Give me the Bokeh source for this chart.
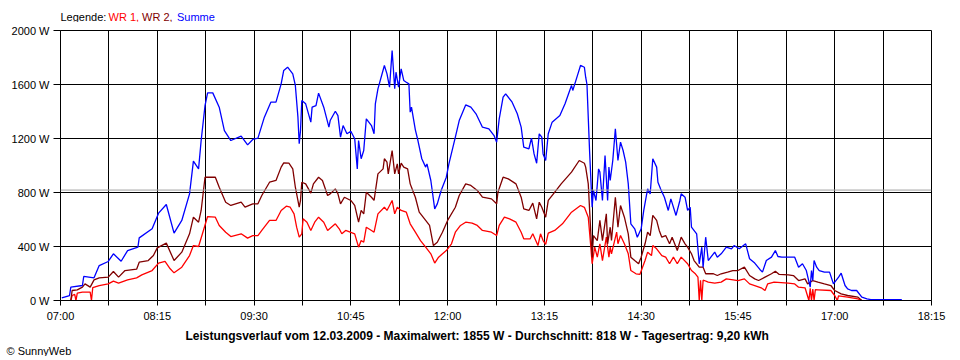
from bokeh.plotting import figure
from bokeh.layouts import column
from bokeh.models import FixedTicker, Span, Range1d, PrintfTickFormatter, Title
from bokeh.core.properties import value
from bokeh.embed import file_html
from bokeh.resources import INLINE

# ---------------- data ----------------
tick_labels = ["07:00", "08:15", "09:30", "10:45", "12:00", "13:15", "14:30", "15:45", "17:00", "18:15"]
y_ticks = [0, 400, 800, 1200, 1600, 2000]
average_w = 818

legend_texts = ["Legende:", "WR 1,", "WR 2,", "Summe"]
legend_colors = ["black", "#ff0000", "#800000", "#0000ff"]
footer_text = "Leistungsverlauf vom 12.03.2009 - Maximalwert: 1855 W - Durchschnitt: 818 W - Tagesertrag: 9,20 kWh"
copyright_text = "© SunnyWeb"

summe_t = ["07:01","07:07","07:08","07:17","07:18","07:26","07:30","07:37","07:41","07:47","07:52","08:00","08:01","08:11","08:16","08:22","08:28","08:34","08:40","08:43","08:47","08:49","08:52","08:54","08:58","09:03","09:07","09:12","09:20","09:25","09:29","09:33","09:38","09:43","09:47","09:51","09:53","09:56","10:00","10:02","10:04","10:05","10:06","10:07","10:10","10:14","10:15","10:18","10:20","10:24","10:28","10:29","10:33","10:35","10:37","10:39","10:42","10:45","10:48","10:50","10:51","10:53","10:55","10:57","11:01","11:03","11:04","11:06","11:11","11:13","11:15","11:17","11:19","11:20","11:22","11:24","11:26","11:28","11:30","11:31","11:32","11:35","11:37","11:40","11:43","11:44","11:47","11:50","11:52","11:55","11:59","12:01","12:06","12:09","12:14","12:18","12:22","12:27","12:32","12:36","12:38","12:40","12:43","12:45","12:50","12:54","12:57","12:59","13:03","13:05","13:07","13:09","13:11","13:13","13:14","13:16","13:18","13:21","13:27","13:31","13:36","13:37","13:41","13:43","13:46","13:47","13:48","13:50","13:52","13:53","13:55","13:57","13:58","14:00","14:02","14:04","14:05","14:06","14:08","14:10","14:12","14:14","14:16","14:18","14:20","14:22","14:25","14:27","14:30","14:32","14:35","14:37","14:39","14:42","14:43","14:45","14:48","14:51","14:53","14:57","15:00","15:01","15:04","15:06","15:08","15:09","15:13","15:15","15:17","15:18","15:20","15:22","15:24","15:27","15:29","15:32","15:36","15:40","15:42","15:46","15:51","15:54","15:58","16:02","16:04","16:07","16:11","16:14","16:16","16:19","16:24","16:29","16:32","16:35","16:38","16:41","16:42","16:43","16:44","16:46","16:48","16:52","16:56","16:59","17:03","17:05","17:08","17:10","17:13","17:17","17:21","17:25","17:28","17:52"]
summe_w = [20,37,99,111,178,168,259,289,346,291,370,395,464,531,647,711,499,593,790,1032,975,1185,1444,1538,1538,1432,1259,1185,1217,1153,1193,1203,1358,1469,1469,1605,1704,1728,1679,1593,1358,1161,1259,1481,1457,1321,1432,1444,1536,1432,1284,1333,1402,1370,1210,1296,1235,1254,1198,975,1185,1050,1111,1346,1296,1235,1457,1568,1741,1679,1580,1852,1568,1691,1580,1716,1630,1617,1605,1395,1432,1264,1185,1050,988,1012,889,679,716,815,913,1012,1210,1333,1449,1432,1383,1284,1272,1222,1173,1346,1506,1531,1469,1383,1284,1136,1124,1203,1086,1017,1235,1210,1086,1037,1235,1321,1370,1457,1593,1556,1679,1741,1728,1654,1600,1111,691,815,741,975,951,741,1074,741,988,889,1037,1272,1037,1173,1111,1025,864,568,531,469,531,667,827,790,1050,988,876,827,765,667,753,630,741,790,765,667,691,543,494,272,395,247,469,296,321,358,321,346,395,383,407,383,420,309,277,230,210,296,321,370,326,321,321,321,247,272,222,99,222,148,296,247,222,210,210,123,173,202,111,86,74,74,25,12,7,7]

wr2_t = ["07:08","07:09","07:13","07:17","07:19","07:23","07:26","07:30","07:37","07:41","07:45","07:50","07:59","08:01","08:08","08:12","08:15","08:22","08:28","08:34","08:40","08:43","08:47","08:49","08:52","09:00","09:03","09:08","09:12","09:20","09:23","09:29","09:33","09:36","09:42","09:47","09:51","09:53","09:57","10:00","10:02","10:05","10:06","10:07","10:10","10:14","10:16","10:20","10:23","10:27","10:29","10:33","10:35","10:37","10:40","10:45","10:48","10:51","10:53","10:55","10:57","11:01","11:03","11:06","11:10","11:11","11:13","11:14","11:17","11:19","11:21","11:22","11:24","11:26","11:29","11:31","11:32","11:35","11:38","11:43","11:46","11:49","11:52","11:56","12:00","12:06","12:09","12:14","12:18","12:23","12:27","12:34","12:38","12:39","12:43","12:47","12:53","12:57","12:59","13:03","13:06","13:09","13:11","13:13","13:16","13:18","13:22","13:28","13:36","13:42","13:46","13:47","13:49","13:51","13:52","13:53","13:56","13:58","14:00","14:03","14:04","14:06","14:07","14:10","14:12","14:14","14:17","14:20","14:22","14:25","14:28","14:30","14:33","14:35","14:37","14:39","14:42","14:44","14:46","14:49","14:52","14:54","14:58","15:01","15:04","15:06","15:09","15:11","15:15","15:18","15:20","15:23","15:26","15:29","15:32","15:37","15:41","15:45","15:50","15:54","15:58","16:01","16:06","16:11","16:14","16:17","16:24","16:28","16:32","16:37","16:39","16:43","16:47","16:52","16:57","17:00","17:05","17:10","17:18","17:21"]
wr2_w = [0,74,79,99,123,99,153,168,173,215,173,222,232,284,296,333,390,425,296,358,494,617,580,667,913,913,839,728,704,728,691,716,716,778,876,889,988,1020,1017,975,839,691,741,876,864,795,864,913,889,778,790,827,790,716,765,741,704,580,667,642,802,765,741,938,975,1050,1025,938,1111,938,1012,938,1017,988,975,864,839,765,654,593,556,407,432,506,593,691,778,864,852,815,765,753,716,802,913,901,864,765,679,667,721,605,728,691,617,741,790,864,951,1037,1017,988,864,494,321,481,444,593,444,642,420,543,444,765,543,704,617,494,321,296,272,321,420,506,481,630,593,519,469,481,420,469,370,469,420,395,346,296,247,247,198,198,198,185,198,210,222,222,247,185,160,148,173,198,217,193,190,185,148,160,123,148,136,123,111,74,49,37,25,0]

wr1_t = ["07:08","07:09","07:11","07:12","07:13","07:17","07:23","07:24","07:25","07:30","07:37","07:41","07:45","07:52","07:59","08:03","08:11","08:16","08:21","08:25","08:28","08:34","08:40","08:43","08:47","08:50","08:54","09:00","09:03","09:08","09:12","09:20","09:25","09:29","09:33","09:36","09:42","09:47","09:51","09:55","09:58","10:01","10:03","10:05","10:07","10:08","10:11","10:14","10:17","10:20","10:24","10:27","10:33","10:36","10:38","10:41","10:48","10:51","10:53","10:55","10:57","11:01","11:03","11:06","11:11","11:13","11:17","11:19","11:21","11:24","11:28","11:31","11:35","11:39","11:43","11:47","11:50","11:53","11:59","12:03","12:06","12:10","12:14","12:19","12:23","12:27","12:34","12:38","12:40","12:44","12:48","12:53","12:57","12:59","13:04","13:06","13:10","13:12","13:14","13:16","13:18","13:23","13:29","13:36","13:43","13:46","13:49","13:51","13:52","13:54","13:56","13:58","14:00","14:03","14:05","14:06","14:07","14:11","14:12","14:14","14:17","14:20","14:22","14:26","14:29","14:33","14:35","14:38","14:39","14:42","14:46","14:49","14:52","14:55","14:58","15:01","15:06","15:09","15:12","15:14","15:15","15:16","15:17","15:18","15:19","15:22","15:27","15:32","15:36","15:40","15:45","15:50","15:54","15:58","16:03","16:06","16:08","16:13","16:24","16:29","16:32","16:37","16:40","16:41","16:42","16:43","16:44","16:45","16:47","16:57","17:00","17:02","17:03","17:10","17:18","17:21"]
wr1_w = [0,37,45,0,55,62,62,0,95,111,123,143,128,153,168,190,222,277,289,235,205,247,333,407,400,494,622,617,556,506,474,494,462,481,481,519,593,593,667,699,691,642,543,469,494,605,580,519,580,617,580,519,568,531,494,519,494,395,444,432,543,519,506,642,691,667,741,642,691,667,654,568,506,444,395,346,277,321,370,420,506,556,580,573,556,519,506,481,556,617,605,580,506,457,457,494,407,494,444,415,499,519,568,654,704,690,617,395,272,395,321,420,296,469,321,395,346,506,420,481,420,346,222,198,193,296,358,333,407,383,333,321,272,321,272,321,272,222,198,173,0,150,0,150,148,136,128,136,160,155,148,160,123,111,94,74,123,136,128,123,99,94,0,90,0,85,0,80,79,74,37,0,35,25,12,0]


def to_min(s):
    h, m = s.split(":")
    return int(h) * 60 + int(m)


FONT = "Liberation Sans"
W = 952
LEFT, RIGHT = 60, 21

x_start = to_min(tick_labels[0])
x_end = to_min(tick_labels[-1])

# ---------- legend strip (top); its frame is aligned with the main frame ----------
top = figure(width=W, height=22, x_range=Range1d(LEFT, W - RIGHT), y_range=Range1d(0, 22),
             output_backend="svg", toolbar_location=None,
             min_border_left=LEFT, min_border_right=RIGHT, min_border_top=0, min_border_bottom=0)
top.axis.visible = False
top.grid.visible = False
top.outline_line_color = None
top.text(x=[60, 108, 141.5, 176.5], y=[6, 6, 6, 6], text=legend_texts, text_color=legend_colors,
         text_font=value(FONT), text_font_size="11px", text_baseline="middle", text_align="left")

# ---------- main chart ----------
p = figure(width=W, height=334,
           x_range=Range1d(x_start, x_end), y_range=Range1d(y_ticks[0], y_ticks[-1]),
           output_backend="svg", toolbar_location=None,
           min_border_left=LEFT, min_border_right=RIGHT, min_border_top=8, min_border_bottom=56)
p.background_fill_color = "white"
p.border_fill_color = "white"
p.outline_line_color = "black"
p.outline_line_width = 1
p.outline_line_alpha = 1

label_mins = [to_min(t) for t in tick_labels]
x_ticks = []
overrides = {}
for i, m in enumerate(label_mins):
    x_ticks.append(m)
    overrides[m] = tick_labels[i]
    if i < len(label_mins) - 1:
        mid = (m + label_mins[i + 1]) / 2
        x_ticks.append(mid)
        overrides[mid] = ""

p.xaxis.ticker = FixedTicker(ticks=x_ticks)
p.xaxis.major_label_overrides = overrides
p.yaxis.ticker = FixedTicker(ticks=y_ticks)
p.yaxis.formatter = PrintfTickFormatter(format="%d W")

for ax in (p.xaxis[0], p.yaxis[0]):
    ax.axis_line_color = "black"
    ax.major_tick_line_color = "black"
    ax.minor_tick_line_color = None
    ax.major_tick_in = 0
    ax.major_label_text_font = FONT
    ax.major_label_text_font_size = "11px"
    ax.major_label_text_color = "black"
p.xaxis.major_tick_out = 5
p.xaxis.major_label_standoff = 4
p.yaxis.major_tick_out = 7
p.yaxis.major_label_standoff = 4

p.xgrid.grid_line_color = "black"
p.xgrid.grid_line_alpha = 1
p.ygrid.grid_line_color = "black"
p.ygrid.grid_line_alpha = 1

p.add_layout(Span(location=average_w, dimension="width", line_color="#a0a0a0", line_width=1))

p.line([to_min(t) for t in wr1_t], wr1_w, line_color="#ff0000", line_width=1.3)
p.line([to_min(t) for t in wr2_t], wr2_w, line_color="#800000", line_width=1.3)
p.line([to_min(t) for t in summe_t], summe_w, line_color="#0000ff", line_width=1.3)

# footer titles (below the x axis)
p.add_layout(Title(text=footer_text, align="left", text_font=FONT, text_font_size="12px",
                   text_font_style="bold", text_color="black", standoff=4, offset=125), "below")
p.add_layout(Title(text=copyright_text, align="left", text_font=FONT, text_font_size="11px",
                   text_font_style="normal", text_color="black", standoff=-4, offset=-54), "below")

layout = column(top, p, spacing=0)
open("out.html", "w").write(file_html(layout, INLINE))
